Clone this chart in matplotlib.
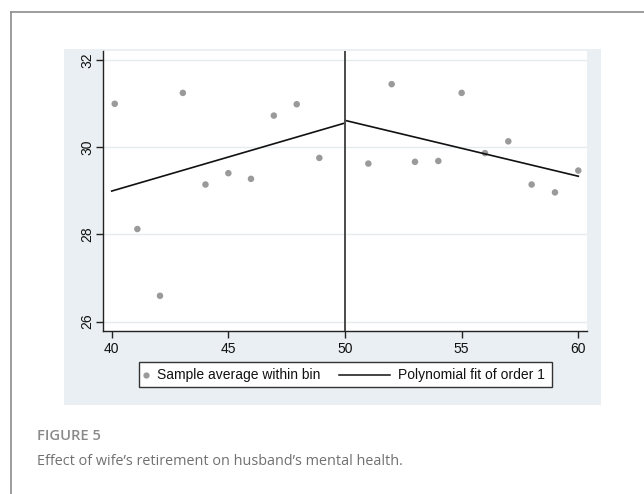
import matplotlib
matplotlib.use("Agg")
import matplotlib.pyplot as plt
from matplotlib.patches import Rectangle
from matplotlib.lines import Line2D

# Binned sample averages (age of wife, husband's mental health score)
left_age = [40.13, 41.10, 42.07, 43.05, 44.02, 45.00, 45.97, 46.95, 47.93, 48.90]
left_avg = [30.99, 28.12, 26.59, 31.24, 29.14, 29.40, 29.27, 30.72, 30.98, 29.75]
right_age = [51, 52, 53, 54, 55, 56, 57, 58, 59, 60]
right_avg = [29.62, 31.44, 29.66, 29.68, 31.24, 29.86, 30.13, 29.14, 28.96, 29.46]

# Linear fits on each side of the cutoff
fit_left_x = [40, 50]
fit_left_y = [28.99, 30.55]
fit_right_x = [50, 60]
fit_right_y = [30.61, 29.33]
cutoff = 50

x_ticks = [40, 45, 50, 55, 60]
y_ticks = [26, 28, 30, 32]

caption_label = "FIGURE 5"
caption_text = "Effect of wife\u2019s retirement on husband\u2019s mental health."
legend_labels = ["Sample average within bin", "Polynomial fit of order 1"]

W, H = 644, 494
fig = plt.figure(figsize=(W / 100, H / 100), dpi=100)
fig.patch.set_facecolor("white")


def fx(x):
    return x / W


def fy(y):
    return 1 - y / H


panel_bg = "#e9eff2"
grid_c = "#e5ecef"
dot_c = "#9a9a9a"
axis_c = "#222222"
font = ["Liberation Sans", "DejaVu Sans"]

# Outer frame (top and left rules)
fig.add_artist(Line2D([fx(11), fx(W)], [fy(12), fy(12)], color="#8c8c8c", lw=1.2))
fig.add_artist(Line2D([fx(11), fx(11)], [fy(12), fy(H)], color="#8c8c8c", lw=1.2))

# Graph region background
fig.add_artist(Rectangle((fx(64), fy(405)), fx(601) - fx(64), fy(49.5) - fy(405),
                         transform=fig.transFigure, facecolor=panel_bg,
                         edgecolor="none", zorder=0))

ax = fig.add_axes([fx(103), fy(330.7), fx(586.7) - fx(103), fy(51) - fy(330.7)])
ax.set_facecolor("white")
ax.set_xlim(39.627, 60.36)
ax.set_ylim(25.79, 32.2)

for yt in y_ticks:
    ax.axhline(yt, color=grid_c, lw=1.0, zorder=1)

ax.scatter(left_age, left_avg, s=22, color=dot_c, edgecolor="none", zorder=3)
ax.scatter(right_age, right_avg, s=22, color=dot_c, edgecolor="none", zorder=3)
ax.plot(fit_left_x, fit_left_y, color="#111111", lw=1.2, zorder=4)
ax.plot(fit_right_x, fit_right_y, color="#111111", lw=1.2, zorder=4)
ax.axvline(cutoff, color="#4a4a4a", lw=1.4, zorder=5)

for side in ["top", "right"]:
    ax.spines[side].set_visible(False)
for side in ["left", "bottom"]:
    ax.spines[side].set_color(axis_c)
    ax.spines[side].set_linewidth(1.0)

ax.set_xticks(x_ticks)
ax.set_yticks(y_ticks)
ax.set_xticklabels([str(t) for t in x_ticks], fontfamily=font, fontsize=10)
ax.set_yticklabels([str(t) for t in y_ticks], fontfamily=font, fontsize=10,
                   rotation=90, va="center")
ax.tick_params(axis="both", direction="out", length=5, width=1.0, color=axis_c,
               labelcolor="#111111")
ax.tick_params(axis="x", pad=3)
ax.tick_params(axis="y", pad=1.5)

# Legend box drawn in figure pixels
fig.add_artist(Rectangle((fx(138.5), fy(386.7)), fx(551.7) - fx(138.5), fy(361.7) - fy(386.7),
                         transform=fig.transFigure, facecolor="white",
                         edgecolor="#333333", lw=1.0, zorder=6))
ly = 374.5
fig.add_artist(Line2D([fx(146)], [fy(ly)], marker="o", markersize=4.5, color=dot_c,
                      markeredgecolor="none", linestyle="none", zorder=7))
fig.text(fx(157), fy(ly), legend_labels[0], fontfamily=font, fontsize=10,
         va="center", ha="left", color="#111111", zorder=7)
fig.add_artist(Line2D([fx(339), fx(390)], [fy(ly), fy(ly)], color="#111111", lw=1.1, zorder=7))
fig.text(fx(398), fy(ly), legend_labels[1], fontfamily=font, fontsize=10,
         va="center", ha="left", color="#111111", zorder=7)

# Caption
fig.text(fx(37), fy(436), caption_label, fontfamily=["Open Sans", "DejaVu Sans"],
         fontsize=10.6, fontweight="semibold", color="#8a8a8a", va="center", ha="left")
fig.text(fx(37), fy(461), caption_text, fontfamily=["Open Sans", "DejaVu Sans"],
         fontsize=10.35, color="#707070", va="center", ha="left")

fig.savefig("out.png", dpi=100, facecolor="white")
